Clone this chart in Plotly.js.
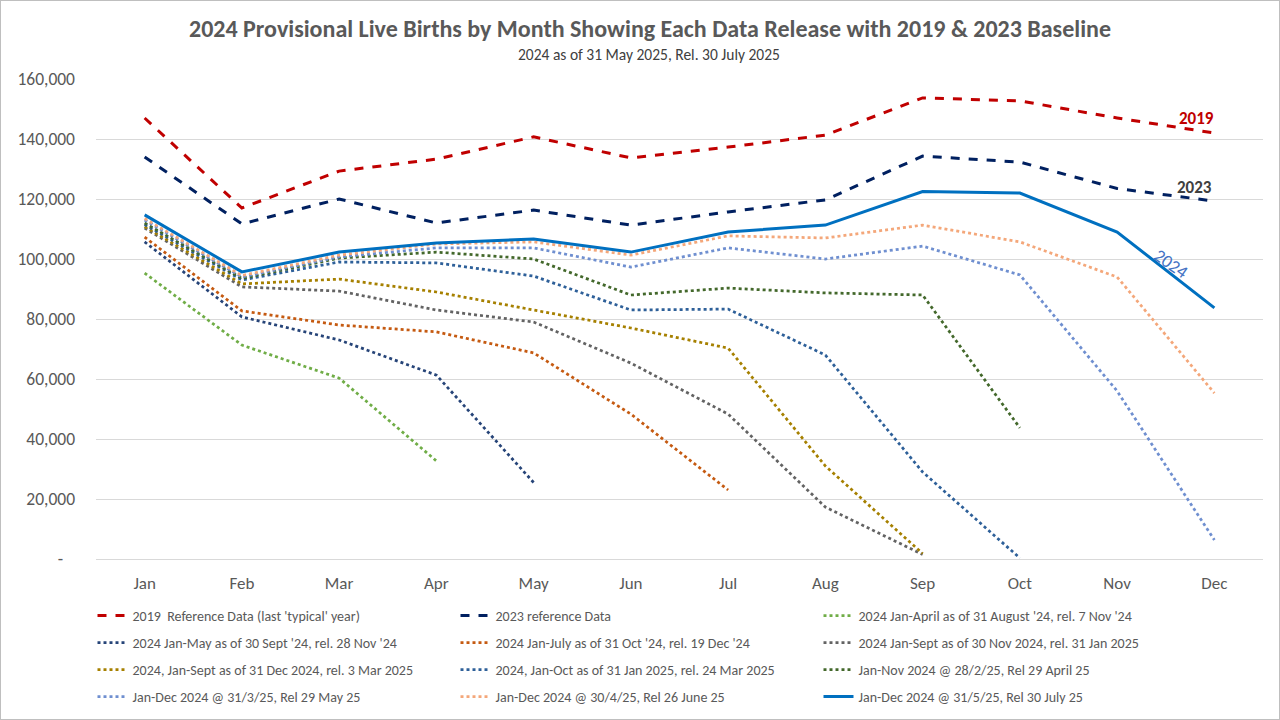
<!DOCTYPE html>
<html>
<head>
<meta charset="utf-8">
<script src="https://cdn.plot.ly/plotly-3.0.1.min.js"></script>
<style>
  html, body { margin: 0; padding: 0; background: #fff; }
  #chart { width: 1278px; height: 718px; border: 1px solid #BFBFBF; }
</style>
</head>
<body>
<div id="chart"></div>
<script>
const months = ["Jan","Feb","Mar","Apr","May","Jun","Jul","Aug","Sep","Oct","Nov","Dec"];

const ref2019 = [147000,117000,129300,133300,140700,133700,137300,141300,153700,152700,147000,142000];
const ref2023 = [134000,111700,120000,112000,116300,111300,115700,119700,134300,132300,123500,119300];
const rel_apr = [95300,71300,60300,32700];
const rel_may = [105700,80700,73000,61300,25500];
const rel_jul = [107300,82700,78000,75700,68700,48300,23000];
const rel_sepNov = [110300,90700,89300,83000,79000,65300,48300,17300,1500];
const rel_sepDec = [110800,91700,93300,89000,83000,77000,70300,31000,1800];
const rel_oct = [111500,93000,99000,98700,94300,83000,83300,68000,29000,300];
const rel_nov = [112000,93500,100300,102300,100000,88000,90300,88700,88000,43700];
const rel_dec31_3 = [113000,94000,100700,103700,103700,97300,103700,100000,104300,94700,56000,6300];
const rel_dec30_4 = [113500,94500,101300,105000,105700,101300,107700,107000,111300,105700,94000,55300];
const rel_dec31_5 = [114700,95700,102300,105300,106700,102300,109000,111300,122500,122000,109000,83700];

const yTickVals = [0,20000,40000,60000,80000,100000,120000,140000,160000];
const yTickText = ["-\u00a0\u00a0\u00a0","20,000","40,000","60,000","80,000","100,000","120,000","140,000","160,000"];

const names = [
  "2019  Reference Data (last 'typical' year)",
  "2023 reference Data",
  "2024 Jan-April as of 31 August '24, rel. 7 Nov '24",
  "2024 Jan-May as of 30 Sept '24, rel. 28 Nov '24",
  "2024 Jan-July as of 31 Oct '24, rel. 19 Dec '24",
  "2024 Jan-Sept as of 30 Nov 2024, rel. 31 Jan 2025",
  "2024, Jan-Sept as of 31 Dec 2024, rel. 3 Mar 2025",
  "2024, Jan-Oct as of 31 Jan 2025, rel. 24 Mar 2025",
  "Jan-Nov 2024 @ 28/2/25, Rel 29 April 25",
  "Jan-Dec 2024 @ 31/3/25, Rel 29 May 25",
  "Jan-Dec 2024 @ 30/4/25, Rel 26 June 25",
  "Jan-Dec 2024 @ 31/5/25, Rel 30 July 25"
];
const series = [ref2019, ref2023, rel_apr, rel_may, rel_jul, rel_sepNov, rel_sepDec, rel_oct, rel_nov, rel_dec31_3, rel_dec30_4, rel_dec31_5];
const colors = ["#C00000","#002060","#70AD47","#264478","#C55A11","#636363","#A68000","#2E6099","#43682B","#6F8FD0","#F4A77A","#0070C0"];
const dashes = ["dash","dash","dot","dot","dot","dot","dot","dot","dot","dot","dot","solid"];
const widths = [3,3,2.75,2.75,2.75,2.75,2.75,2.75,2.75,2.75,2.75,3];
const legends = ["legend","legend","legend","legend2","legend2","legend2","legend3","legend3","legend3","legend4","legend4","legend4"];

const FONT = "Carlito, Calibri, Lato, 'Liberation Sans', sans-serif";

const traces = series.map((vals, i) => ({
  type: "scatter",
  mode: "lines",
  x: months.slice(0, vals.length),
  y: vals,
  name: names[i],
  legend: legends[i],
  line: { color: colors[i], width: widths[i], dash: dashes[i] },
  hoverinfo: "x+y+name"
}));

function leg(yPix) {
  return {
    orientation: "h",
    x: -0.003, xanchor: "left",
    y: (558 - (yPix - 1)) / 480, yanchor: "middle",
    entrywidth: 318, entrywidthmode: "pixels",
    font: { family: FONT, size: 14, color: "#595959" },
    bgcolor: "rgba(0,0,0,0)",
    traceorder: "normal"
  };
}

const layout = {
  width: 1278, height: 718,
  margin: { l: 95, r: 16, t: 78, b: 160, autoexpand: false },
  paper_bgcolor: "#fff",
  plot_bgcolor: "#fff",
  font: { family: FONT, color: "#595959" },
  title: {
    text: "<b>2024 Provisional Live Births by Month Showing Each Data Release with 2019 & 2023 Baseline</b>",
    font: { family: FONT, size: 24, color: "#595959" },
    xref: "container", x: 649 / 1278, xanchor: "center",
    yref: "container", y: 1 - 28 / 718, yanchor: "middle"
  },
  xaxis: {
    type: "category",
    categoryorder: "array",
    categoryarray: months,
    range: [-0.5, 11.5],
    showgrid: false,
    showline: false,
    zeroline: false,
    ticks: "",
    tickfont: { family: FONT, size: 17, color: "#595959" },
    ticklabelstandoff: 12
  },
  yaxis: {
    range: [0, 160000],
    tickvals: yTickVals,
    ticktext: yTickText,
    showgrid: true,
    gridcolor: "#D9D9D9",
    gridwidth: 1,
    zeroline: true,
    zerolinecolor: "#D9D9D9",
    zerolinewidth: 1,
    showline: false,
    ticks: "",
    tickfont: { family: FONT, size: 17.5, color: "#595959" },
    ticklabelstandoff: 20
  },
  legend: leg(616),
  legend2: leg(643),
  legend3: leg(670),
  legend4: leg(697),
  annotations: [
    { xref: "paper", yref: "paper", x: (649 - 96) / 1167, y: (559 - 54) / 480, xanchor: "center", yanchor: "middle",
      text: "2024 as of 31 May 2025, Rel. 30 July 2025", showarrow: false,
      font: { family: FONT, size: 15.5, color: "#404040" } },
    { xref: "x", yref: "y", x: 10.82, y: 146700, text: "<b>2019</b>", showarrow: false,
      font: { family: FONT, size: 17, color: "#C00000" } },
    { xref: "x", yref: "y", x: 10.8, y: 124000, text: "<b>2023</b>", showarrow: false,
      font: { family: FONT, size: 17, color: "#404040" } },
    { xref: "x", yref: "y", x: 10.56, y: 98500, text: "2024", showarrow: false, textangle: 35,
      font: { family: FONT, size: 18, color: "#4472C4" } }
  ],
  showlegend: true
};

Plotly.newPlot("chart", traces, layout, { displayModeBar: false });
</script>
</body>
</html>
